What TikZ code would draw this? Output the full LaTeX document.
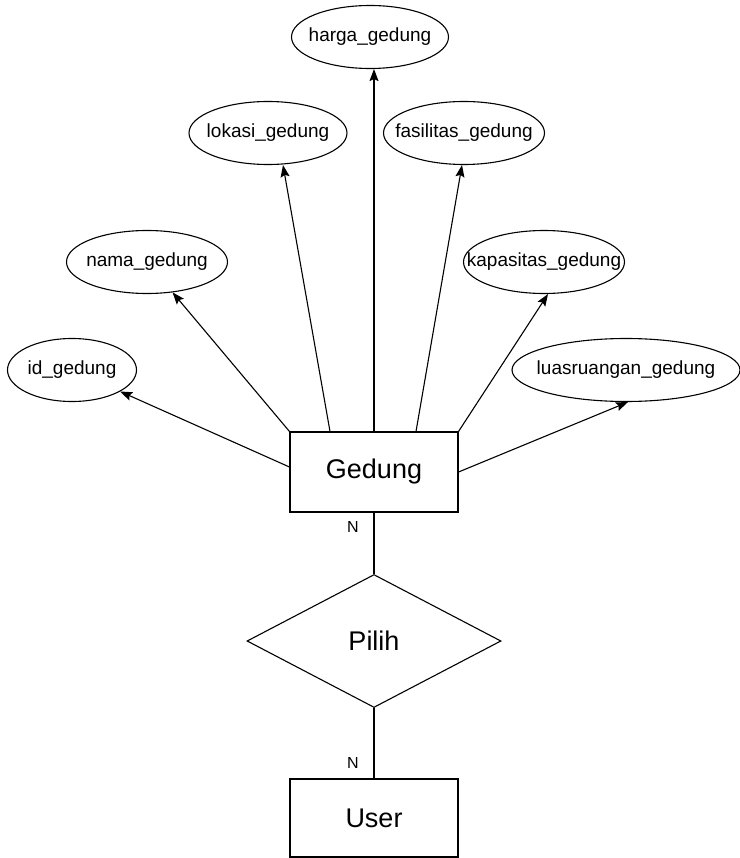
\documentclass[tikz,border=0pt]{standalone}
\usepackage{fontspec}
\setmainfont{Liberation Sans}
\usetikzlibrary{arrows.meta,positioning,shapes.geometric}

\begin{document}
\begin{tikzpicture}[x=1pt,y=-1pt,
  attr/.style={draw,ellipse,line width=1.1pt,inner xsep=-30pt,inner ysep=0pt,minimum height=63pt,font=\fontsize{19}{22}\selectfont},
  entity/.style={draw,rectangle,line width=1.1pt,inner sep=0pt,minimum width=168pt,font=\fontsize{27}{32}\selectfont},
  rel/.style={draw,diamond,line width=1.1pt,inner sep=0pt,minimum width=254pt,minimum height=133pt,font=\fontsize{27}{32}\selectfont},
  card/.style={font=\fontsize{16}{19}\selectfont},
  link/.style={-{Stealth[length=12pt,width=9pt,inset=2pt]},line width=1.1pt}]
  \useasboundingbox (0,0) rectangle (739,858);
  % entities and relation
  \node[entity,minimum height=80pt] (gedung) at (374,472) {Gedung};
  \node[rel] (pilih) at (374,641) {Pilih};
  \node[entity,minimum height=78pt] (user) at (374,818) {User};
  % attributes
  \node[attr,minimum width=157pt] (harga) at (370,37) {harga\_gedung};
  \node[attr,minimum width=158pt] (lokasi) at (268,133) {lokasi\_gedung};
  \node[attr,minimum width=161pt] (fasilitas) at (464,133) {fasilitas\_gedung};
  \node[attr,minimum width=161pt] (nama) at (147,262) {nama\_gedung};
  \node[attr,minimum width=161pt] (kapasitas) at (544,262) {kapasitas\_gedung};
  \node[attr,minimum width=129pt] (id) at (72,370) {id\_gedung};
  \node[attr,minimum width=228pt] (luas) at (626,370) {luasruangan\_gedung};
  % attribute arrows
  \draw[link] ([yshift=5pt]gedung.west) -- (id);
  \draw[link] (gedung.north west) -- (nama);
  \draw[link] ([xshift=-44pt]gedung.north) -- ([xshift=15pt]lokasi.south);
  \draw[link] (gedung.north) -- ([xshift=4pt]harga.south);
  \draw[link] ([xshift=42pt]gedung.north) -- ([xshift=-2pt]fasilitas.south);
  \draw[link] (gedung.north east) -- ([xshift=4pt]kapasitas.south);
  \draw[link] (gedung.east) -- ([xshift=2pt]luas.south);
  % relation lines
  \draw[line width=1.1pt] (gedung) -- (pilih);
  \draw[line width=1.1pt] (pilih) -- (user);
  \node[card] (n1) at (353,527) {N};
  \node[card] (n2) at (353,763) {N};
\end{tikzpicture}
\end{document}
